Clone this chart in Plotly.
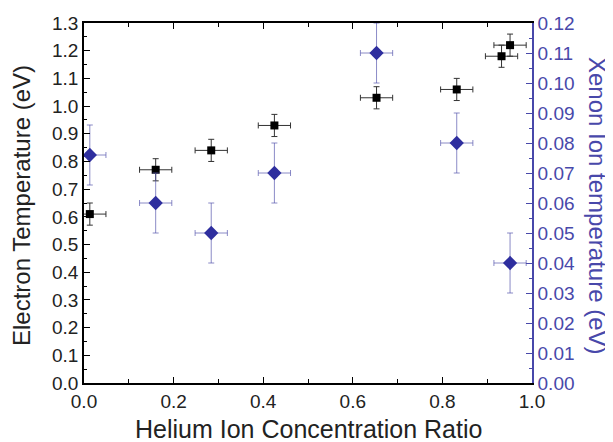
import plotly.graph_objects as go

# Electron temperature (left axis)
he_ratio_e = [0.013, 0.16, 0.284, 0.425, 0.653, 0.832, 0.932, 0.951]
te_vals = [0.61, 0.77, 0.84, 0.93, 1.03, 1.06, 1.18, 1.22]
te_err = [0.04, 0.04, 0.04, 0.04, 0.04, 0.04, 0.04, 0.04]
he_err_e = [0.036, 0.036, 0.036, 0.036, 0.036, 0.036, 0.036, 0.036]

# Xenon ion temperature (right axis)
he_ratio_x = [0.013, 0.16, 0.284, 0.425, 0.653, 0.832, 0.951]
ti_vals = [0.076, 0.060, 0.050, 0.070, 0.110, 0.080, 0.040]
ti_err = [0.010, 0.010, 0.010, 0.010, 0.010, 0.010, 0.010]
he_err_x = [0.036, 0.036, 0.036, 0.036, 0.036, 0.036, 0.036]

FONT = "Liberation Sans, Arial, sans-serif"
BLUE = "#2e2e9e"
BLUE_AX = "#4848aa"
BLUE_ERR = "rgba(90,90,175,0.7)"
TICK_SIZE = 19
TITLE_SIZE = 24

fig = go.Figure()

fig.add_trace(go.Scatter(
    x=he_ratio_e, y=te_vals, mode="markers",
    marker=dict(symbol="square", size=8, color="black"),
    error_y=dict(type="data", array=te_err, color="#333333", thickness=1, width=3),
    error_x=dict(type="data", array=he_err_e, color="#333333", thickness=1, width=3),
    showlegend=False, cliponaxis=True,
))

fig.add_trace(go.Scatter(
    x=he_ratio_x, y=ti_vals, mode="markers", yaxis="y2",
    marker=dict(symbol="diamond", size=11, color=BLUE),
    error_y=dict(type="data", array=ti_err, color=BLUE_ERR, thickness=1, width=3),
    error_x=dict(type="data", array=he_err_x, color=BLUE_ERR, thickness=1, width=3),
    showlegend=False, cliponaxis=True,
))

fig.update_layout(
    width=605, height=434,
    margin=dict(l=76, r=81, t=15, b=59),
    paper_bgcolor="white", plot_bgcolor="white",
    font=dict(family=FONT, size=TICK_SIZE, color="#222222"),
    xaxis=dict(
        range=[0, 1.0], dtick=0.2, tick0=0, tickformat=".1f", automargin=False,
        showgrid=False, zeroline=False,
        showline=True, linecolor="black", linewidth=1.5, mirror="ticks",
        ticks="inside", ticklen=6, tickwidth=1.2, tickcolor="black",
        minor=dict(ticks="inside", dtick=0.1, ticklen=4, tickwidth=1.2, tickcolor="black"),
    ),
    yaxis=dict(
        range=[0, 1.3], dtick=0.1, tick0=0, tickformat=".1f", automargin=False,
        showgrid=False, zeroline=False,
        showline=True, linecolor="black", linewidth=1.5,
        ticks="inside", ticklen=6, tickwidth=1.2, tickcolor="black",
        minor=dict(ticks="inside", dtick=0.05, ticklen=3, tickwidth=1.2, tickcolor="black"),
    ),
    yaxis2=dict(
        overlaying="y", side="right", automargin=False,
        range=[0, 0.12], dtick=0.01, tick0=0, tickformat=".2f",
        showgrid=False, zeroline=False,
        showline=True, linecolor=BLUE_AX, linewidth=1.5,
        ticks="inside", ticklen=6, tickwidth=1.2, tickcolor=BLUE_AX,
        minor=dict(ticks="inside", dtick=0.005, ticklen=3, tickwidth=1.2, tickcolor=BLUE_AX),
        tickfont=dict(color=BLUE_AX, size=TICK_SIZE),
    ),
    annotations=[
        dict(
            text="Helium Ion Concentration Ratio",
            xref="paper", yref="paper", x=0.5, y=0.0, yshift=-46,
            showarrow=False, xanchor="center", yanchor="middle",
            font=dict(size=25, color="#222222", family=FONT),
        ),
        dict(
            text="Electron Temperature (eV)", textangle=-90,
            xref="paper", yref="paper", x=0.0, y=0.5, xshift=-63, yshift=-3,
            showarrow=False, xanchor="center", yanchor="middle",
            font=dict(size=TITLE_SIZE, color="#222222", family=FONT),
        ),
        dict(
            text="Xenon Ion temperature (eV)", textangle=90,
            xref="paper", yref="paper", x=1.0, y=0.5, xshift=66, yshift=-3,
            showarrow=False, xanchor="center", yanchor="middle",
            font=dict(size=TITLE_SIZE, color=BLUE_AX, family=FONT),
        ),
    ],
)

fig.write_html("out.html")
